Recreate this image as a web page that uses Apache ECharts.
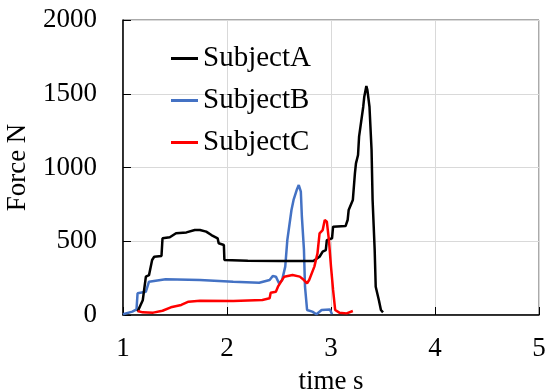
<!DOCTYPE html>
<html><head><meta charset="utf-8">
<script src="https://cdn.jsdelivr.net/npm/echarts@6/dist/echarts.min.js"></script>
<style>html,body{margin:0;padding:0;background:#fff}#c{width:546px;height:392px}</style>
</head><body><div id="c"></div>
<script>
var seriesNames = ['SubjectA', 'SubjectB', 'SubjectC'];
var xTicks = [1, 2, 3, 4, 5];
var yTicks = [0, 500, 1000, 1500, 2000];

var timeA = [1.14,1.19,1.22,1.25,1.28,1.30,1.37,1.38,1.45,1.51,1.61,1.69,1.74,1.80,1.85,1.91,1.92,1.97,1.975,2.2,2.5,2.83,2.89,2.92,2.95,2.96,3.01,3.02,3.14,3.16,3.17,3.21,3.23,3.24,3.26,3.27,3.31,3.32,3.34,3.35,3.37,3.39,3.40,3.42,3.43,3.46,3.48,3.50];
var forceA = [23,100,260,270,373,395,400,520,527,554,560,576,576,565,542,520,486,475,373,368,366,366,395,430,440,508,520,599,603,644,712,780,960,1028,1085,1209,1412,1480,1553,1525,1412,1119,780,441,192,102,34,18];

var timeB = [1.0,1.09,1.13,1.14,1.22,1.25,1.41,1.74,2.06,2.31,2.41,2.44,2.47,2.50,2.53,2.56,2.58,2.62,2.64,2.67,2.69,2.71,2.72,2.74,2.75,2.77,2.82,2.86,2.91,2.99,3.01];
var forceB = [5,23,38,147,158,226,242,237,226,219,237,264,260,215,237,328,508,712,780,847,881,836,667,441,192,34,23,5,34,38,5];

var timeC = [1.14,1.19,1.29,1.38,1.46,1.56,1.63,1.74,2.06,2.34,2.41,2.42,2.47,2.49,2.55,2.63,2.70,2.74,2.77,2.79,2.84,2.87,2.89,2.92,2.94,2.96,2.98,3.00,3.02,3.04,3.08,3.15,3.21];
var forceC = [27,18,16,29,52,68,90,97,95,102,113,151,158,192,260,271,260,237,215,237,328,418,554,576,644,633,508,328,170,34,16,11,27];

var colors = ['#000000', '#4472C4', '#FF0000'];

function pairs(t, f) { return t.map(function (v, i) { return [v, f[i]]; }); }

var font = 'Liberation Serif';
var chart = echarts.init(document.getElementById('c'));
chart.setOption({
  animation: false,
  backgroundColor: '#fff',
  grid: { left: 123, right: 7, top: 20, bottom: 77, show: true, borderColor: '#555', borderWidth: 1,
    containLabel: false, outerBoundsMode: 'none' },
  legend: {
    orient: 'vertical', left: 166, top: 39,
    icon: 'rect', itemWidth: 27, itemHeight: 3, itemGap: 13,
    textStyle: { fontFamily: font, fontSize: 29, color: '#000' },
    data: seriesNames
  },
  xAxis: {
    type: 'value', min: 1, max: 5, interval: 1,
    name: 'time s', nameLocation: 'middle', nameGap: 53,
    nameTextStyle: { fontFamily: font, fontSize: 27, color: '#000' },
    axisLine: { lineStyle: { color: '#000', width: 1.5 } },
    axisTick: { show: true, inside: true, length: 8, lineStyle: { color: '#000' } },
    axisLabel: { fontFamily: font, fontSize: 27, color: '#000', margin: 20,
      formatter: function (v) { return xTicks.indexOf(v) >= 0 ? String(v) : ''; } },
    splitLine: { show: true, lineStyle: { color: '#d9d9d9', width: 1 } }
  },
  yAxis: {
    type: 'value', min: 0, max: 2000, interval: 500,
    name: 'Force N', nameLocation: 'middle', nameGap: 92,
    nameTextStyle: { fontFamily: font, fontSize: 27, color: '#000' },
    axisLine: { show: true, lineStyle: { color: '#000', width: 1.5 } },
    axisTick: { show: true, inside: true, length: 8, lineStyle: { color: '#000' } },
    axisLabel: { fontFamily: font, fontSize: 27, color: '#000', margin: 26,
      formatter: function (v) { return yTicks.indexOf(v) >= 0 ? String(v) : ''; } },
    splitLine: { show: true, lineStyle: { color: '#d9d9d9', width: 1 } }
  },
  series: [
    { name: seriesNames[0], type: 'line', data: pairs(timeA, forceA), symbol: 'none', color: colors[0], lineStyle: { width: 2.5, color: colors[0] }, z: 3 },
    { name: seriesNames[1], type: 'line', data: pairs(timeB, forceB), symbol: 'none', color: colors[1], lineStyle: { width: 2.5, color: colors[1] }, z: 2 },
    { name: seriesNames[2], type: 'line', data: pairs(timeC, forceC), symbol: 'none', color: colors[2], lineStyle: { width: 2.5, color: colors[2] }, z: 4 }
  ]
});
</script></body></html>
